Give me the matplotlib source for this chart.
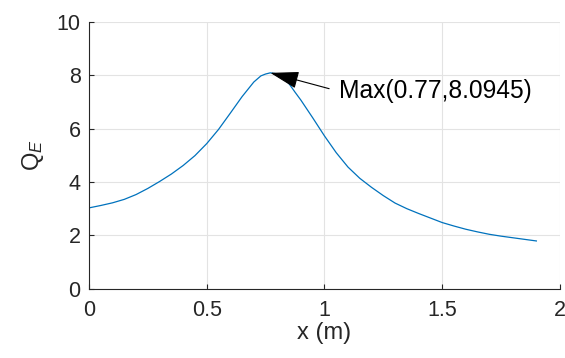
import matplotlib
matplotlib.use("Agg")
import matplotlib.pyplot as plt

# Data
x_vals = [0.0, 0.05, 0.1, 0.15, 0.2, 0.25, 0.3, 0.35, 0.4, 0.45, 0.5, 0.55, 0.6,
          0.65, 0.7, 0.73, 0.75, 0.77, 0.79, 0.81, 0.83, 0.85, 0.875, 0.9, 0.95,
          1.0, 1.05, 1.1, 1.15, 1.2, 1.25, 1.3, 1.35, 1.4, 1.45, 1.5, 1.55, 1.6,
          1.65, 1.7, 1.75, 1.8, 1.85, 1.9]
q_vals = [3.03, 3.12, 3.22, 3.35, 3.53, 3.76, 4.02, 4.30, 4.62, 4.99, 5.44, 5.97, 6.58,
          7.20, 7.75, 7.98, 8.05, 8.0945, 8.07, 8.00, 7.88, 7.68, 7.37, 7.07, 6.41,
          5.73, 5.10, 4.56, 4.14, 3.80, 3.49, 3.21, 3.00, 2.82, 2.65, 2.48, 2.35, 2.23,
          2.13, 2.04, 1.97, 1.91, 1.85, 1.79]
peak_x, peak_y = 0.77, 8.0945
x_ticks = [0, 0.5, 1, 1.5, 2]
x_tick_labels = ["0", "0.5", "1", "1.5", "2"]
y_ticks = [0, 2, 4, 6, 8, 10]
y_tick_labels = ["0", "2", "4", "6", "8", "10"]

plt.rcParams['font.family'] = ['Liberation Sans', 'DejaVu Sans']
plt.rcParams['mathtext.fontset'] = 'custom'
plt.rcParams['mathtext.rm'] = 'Liberation Sans'
plt.rcParams['mathtext.it'] = 'Liberation Sans:italic'

dark = '#262626'
fig = plt.figure(figsize=(5.65, 3.58), dpi=100)
ax = fig.add_axes([0.1575, 0.1936, 0.8335, 0.7449])

ax.plot(x_vals, q_vals, color='#0072BD', linewidth=0.9)

ax.set_xlim(0, 2)
ax.set_ylim(0, 10)
ax.set_xticks(x_ticks)
ax.set_xticklabels(x_tick_labels)
ax.set_yticks(y_ticks)
ax.set_yticklabels(y_tick_labels)

ax.grid(True, color='#e3e3e3', linewidth=0.8)
ax.set_axisbelow(True)
for s in ['top', 'right']:
    ax.spines[s].set_visible(False)
for s in ['left', 'bottom']:
    ax.spines[s].set_color(dark)
    ax.spines[s].set_linewidth(0.8)
ax.tick_params(direction='in', length=3.5, width=0.8, colors=dark,
               labelsize=15.5, labelcolor=dark)
ax.tick_params(axis='x', pad=8)
ax.tick_params(axis='y', pad=6)

ax.set_xlabel('x (m)', fontsize=17, color=dark, labelpad=1)
ax.set_ylabel(r'$\mathrm{Q}_{E}$', fontsize=17, color=dark, labelpad=8,
              rotation=90)

ax.annotate('', xy=(peak_x, peak_y), xytext=(1.02, 7.5),
            arrowprops=dict(arrowstyle='-|>,head_length=1.5,head_width=0.45',
                            mutation_scale=12, color='black', lw=0.8,
                            shrinkA=0, shrinkB=0))
ax.text(1.063, 7.42, 'Max(%.2f,%.4f)' % (peak_x, peak_y), fontsize=17.7,
        color='black', ha='left', va='center')

fig.savefig('out.png', dpi=100)
